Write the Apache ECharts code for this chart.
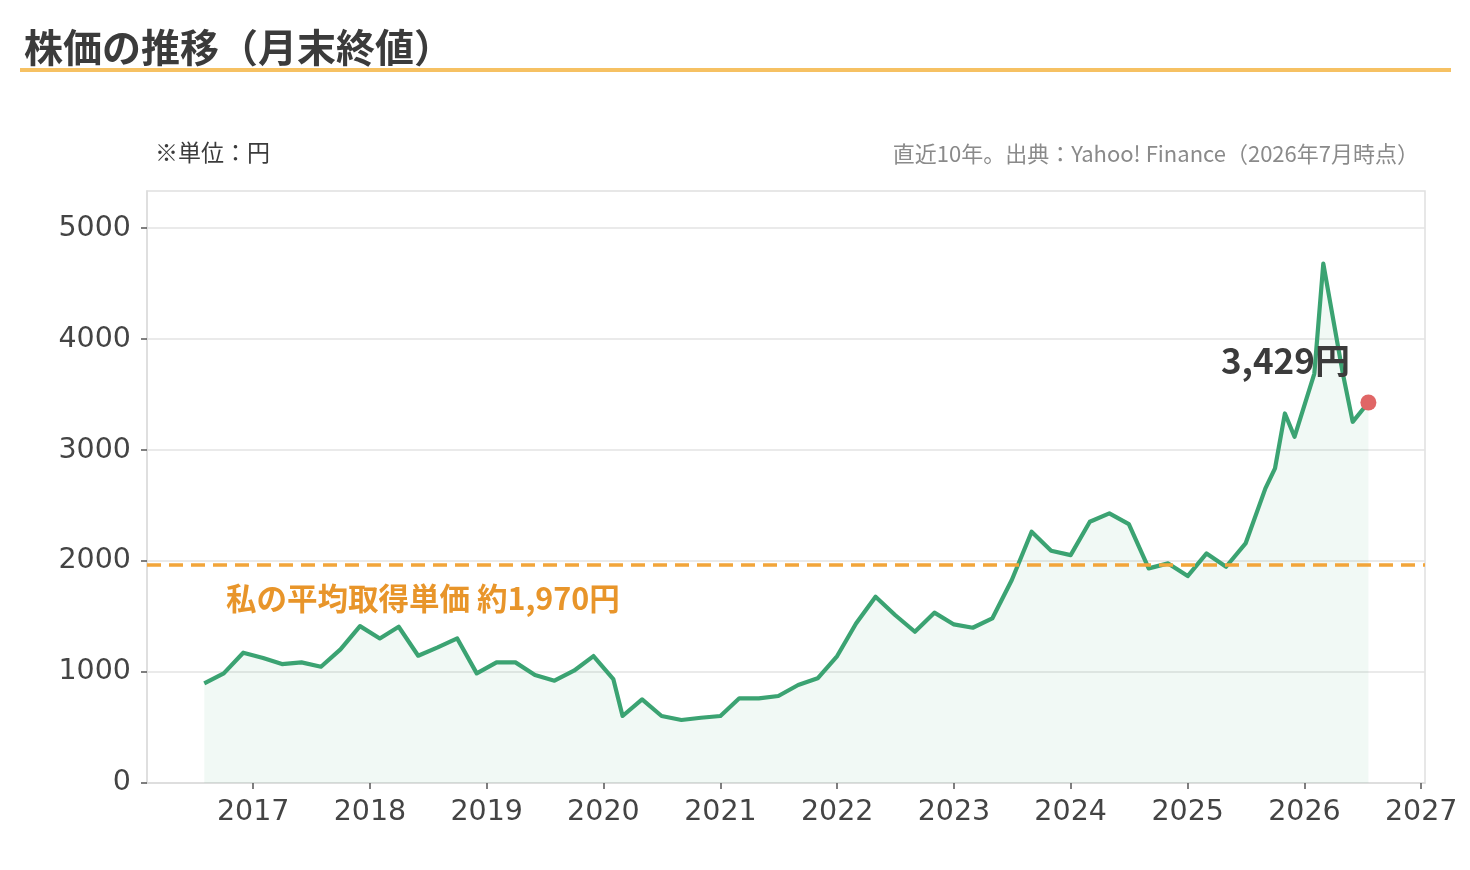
<!DOCTYPE html>
<html><head><meta charset="utf-8">
<script src="https://cdn.jsdelivr.net/npm/echarts@6/dist/echarts.min.js"></script>
<style>html,body{margin:0;padding:0;background:#fff}#c{width:1470px;height:870px}</style>
</head><body><div id="c"></div>
<script>
const dates = ['2016-08-01','2016-10-01','2016-12-01','2017-02-01','2017-04-01','2017-06-01','2017-08-01','2017-10-01','2017-12-01',
'2018-02-01','2018-04-01','2018-06-01','2018-08-01','2018-10-01','2018-12-01','2019-02-01','2019-04-01','2019-06-01','2019-08-01',
'2019-10-01','2019-12-01','2020-02-01','2020-03-01','2020-05-01','2020-07-01','2020-09-01','2020-11-01','2021-01-01','2021-03-01',
'2021-05-01','2021-07-01','2021-09-01','2021-11-01','2022-01-01','2022-03-01','2022-05-01','2022-07-01','2022-09-01','2022-11-01',
'2023-01-01','2023-03-01','2023-05-01','2023-07-01','2023-09-01','2023-11-01','2024-01-01','2024-03-01','2024-05-01','2024-07-01',
'2024-09-01','2024-11-01','2025-01-01','2025-03-01','2025-05-01','2025-07-01','2025-09-01','2025-10-01','2025-11-01','2025-12-01',
'2026-02-01','2026-03-01','2026-05-01','2026-06-01','2026-07-20'];
const prices = [898,988,1174,1126,1072,1087,1048,1204,1414,
1303,1408,1147,1222,1303,988,1087,1087,973,922,
1012,1144,937,604,754,604,568,588,604,763,
763,784,883,943,1144,1438,1679,1514,1363,1535,
1429,1399,1483,1829,2264,2093,2054,2354,2430,2333,
1934,1979,1865,2069,1949,2159,2655,2835,3330,3120,
3690,4680,3691,3255,3429];
const avgCost = 1970;
const yTicks = [0,1000,2000,3000,4000,5000];

const titleText = '株価の推移（月末終値）';
const unitText = '※単位：円';
const sourceText = '直近10年。出典：Yahoo! Finance（2026年7月時点）';
const avgLabel = '私の平均取得単価 約' + avgCost.toLocaleString('en-US') + '円';

const JP = '"Noto Sans CJK JP", "Noto Sans", sans-serif';
const NUM = '"DejaVu Sans", sans-serif';

const seriesData = dates.map((d, i) => [d, prices[i]]);
const last = seriesData[seriesData.length - 1];
const YEAR = 365 * 24 * 3600 * 1000;

const chart = echarts.init(document.getElementById('c'), null, {renderer: 'canvas'});
chart.setOption({
  animation: false,
  backgroundColor: '#fff',
  title: [
    {text: titleText, left: 19, top: 23, textStyle: {fontFamily: JP, fontSize: 39, fontWeight: 'bold', color: '#3b3b3b'}},
    {text: unitText, left: 150, top: 136, textStyle: {fontFamily: JP, fontSize: 23, fontWeight: 'normal', color: '#3b3b3b'}},
    {text: sourceText, right: 46, top: 138, textStyle: {fontFamily: JP, fontSize: 22, fontWeight: 'normal', color: '#8a8a8a'}}
  ],
  graphic: [
    {type: 'rect', left: 20, top: 68, shape: {width: 1431, height: 4}, style: {fill: '#f6c163'}, silent: true}
  ],
  grid: {left: 147, right: 45, top: 191, bottom: 87, show: true, borderColor: '#e0e0e0', borderWidth: 1.5, backgroundColor: 'transparent'},
  xAxis: {
    type: 'time',
    min: +new Date(2016, 1, 4),
    max: +new Date(2027, 0, 13),
    minInterval: YEAR,
    maxInterval: YEAR * 1.01,
    axisLine: {show: true, lineStyle: {color: '#dcdcdc', width: 1.5}},
    axisTick: {show: true, length: 6, lineStyle: {color: '#555', width: 1.5}},
    axisLabel: {formatter: v => String(new Date(v).getFullYear()), fontFamily: NUM, fontSize: 28.5, color: '#444', margin: 15, hideOverlap: false},
    splitLine: {show: false}
  },
  yAxis: {
    type: 'value',
    min: 0, max: 5335, interval: 1000,
    axisLine: {show: true, lineStyle: {color: '#dcdcdc', width: 1.5}},
    axisTick: {show: true, length: 6, lineStyle: {color: '#555', width: 1.5}, customValues: yTicks},
    axisLabel: {customValues: yTicks, formatter: v => String(v), fontFamily: NUM, fontSize: 28.5, color: '#444', margin: 16},
    splitLine: {show: true, lineStyle: {color: '#e3e3e3', width: 1.5}}
  },
  series: [
    {
      type: 'line',
      data: seriesData,
      showSymbol: false,
      symbol: 'none',
      lineStyle: {color: '#3ba372', width: 4.2, join: 'round'},
      areaStyle: {color: 'rgba(59,163,114,0.10)'},
      z: 3,
      markLine: {
        silent: true,
        symbol: ['none', 'none'],
        data: [{yAxis: avgCost}],
        lineStyle: {color: '#f2a53a', width: 3.5, type: [14, 8]},
        label: {show: true, position: 'insideStartBottom', distance: [79, 19], formatter: avgLabel,
          fontFamily: JP, fontSize: 30.5, fontWeight: 'bold', color: '#e8952a'}
      }
    },
    {
      type: 'scatter',
      data: [last],
      symbol: 'circle',
      symbolSize: 16,
      itemStyle: {color: '#e06666', opacity: 1},
      z: 5,
      label: {show: true, position: 'top', offset: [-83, -11],
        formatter: p => p.value[1].toLocaleString('en-US') + '円',
        fontFamily: JP, fontSize: 35, fontWeight: 'bold', color: '#3b3b3b', opacity: 1}
    }
  ]
});
</script></body></html>
